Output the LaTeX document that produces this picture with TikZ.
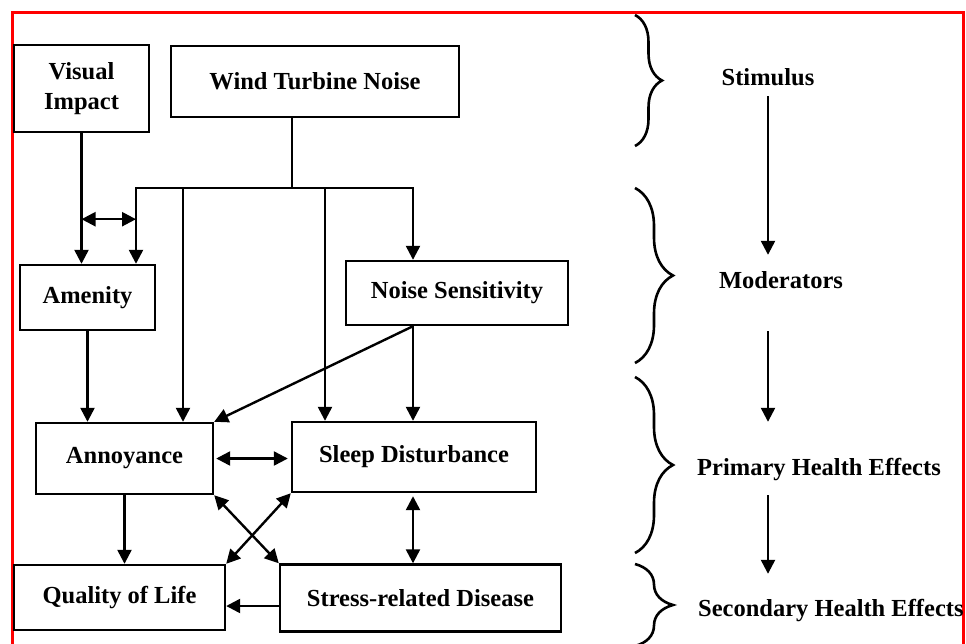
\documentclass[tikz,border=0pt]{standalone}
\usepackage{fontspec}
\setmainfont{Liberation Serif}
\usetikzlibrary{arrows.meta,decorations.pathreplacing}

\begin{document}
\begin{tikzpicture}[x=1pt,y=-1pt,line width=2.4pt,
  >={Triangle[length=14pt,width=14pt]},
  font=\fontsize{24.5}{30}\selectfont\bfseries,
  box/.style={draw,inner sep=0pt,align=center},
  lbl/.style={inner sep=0pt,text height=17pt,text depth=5pt},
  grp/.style={decorate,decoration={brace,amplitude=#1},line width=2.6pt}]

\useasboundingbox (0,0) rectangle (966,643);
\draw[red,line width=3pt] (12,12) rectangle (963,680);

% boxes
\node[box,minimum width=135pt,minimum height=87pt] (visual) at (81.5,88.5) {Visual\\Impact};
\node[box,minimum width=288pt,minimum height=71pt] (wtn) at (315,81.5) {Wind Turbine Noise};
\node[box,minimum width=135pt,minimum height=65pt] (amenity) at (87.5,297.5) {Amenity};
\node[box,minimum width=222pt,minimum height=64pt] (noisesens) at (457,293) {Noise Sensitivity};
\node[box,minimum width=177pt,minimum height=71pt] (annoy) at (124.5,458.5) {Annoyance};
\node[box,minimum width=244pt,minimum height=70pt] (sleep) at (414,457) {Sleep Disturbance};
\node[box,minimum width=211pt,minimum height=65pt] (qol) at (119.5,597.5) {Quality of Life};
\node[box,minimum width=281pt,minimum height=67pt] (stress) at (420.5,598) {Stress-related Disease};

\coordinate (bus) at (292,188);
\coordinate (d1) at (136,188);
\coordinate (d2) at (183,188);
\coordinate (d3) at (325,188);
\coordinate (d4) at (413,188);

\draw (wtn.south -| bus) -- (bus);
\draw[->] (bus) -| (d1 |- amenity.north);
\draw[->] (bus) -| (d4 |- noisesens.north);
\draw[->] (d2) -- (d2 |- annoy.north);
\draw[->] (d3) -- (d3 |- sleep.north);

\draw[->] (visual.south) -- (visual.south |- amenity.north);
\coordinate (vx) at ([yshift=-86pt]visual.south);
\draw[<->] (vx) -- (vx -| d1);

\draw[->] (amenity.south) -- (amenity.south |- annoy.north);
\draw[->] (noisesens.south -| d4) -- (d4 |- sleep.north);
\draw[->] (noisesens.south -| d4) -- (annoy.north east);

\draw[<->,shorten <=2pt,shorten >=3pt] (annoy.east) -- (annoy.east -| sleep.west);
\draw[->] (annoy.south) -- (annoy.south |- qol.north);
\draw[<->] (annoy.south east) -- (stress.north west);
\draw[<->] (sleep.south west) -- (qol.north east);
\draw[<->,shorten <=3pt] (sleep.south -| d4) -- (d4 |- stress.north);
\coordinate (sq) at ([yshift=-8pt]stress.west);
\draw[->] (sq) -- (sq -| qol.east);

% levels
\node[lbl] (stim) at (768,79) {Stimulus};
\node[lbl] (mod) at (781,282) {Moderators};
\node[lbl] (prim) at (819,469) {Primary Health Effects};
\node[lbl,anchor=west] (sec) at (697,610) {Secondary Health Effects};

\draw[grp=27pt] (635,15) -- (635,146);
\draw[grp=38pt] (635,188) -- (635,363);
\draw[grp=38pt] (635,377) -- (635,553);
\draw[grp=38pt] (635,564) -- (635,646);

\draw[->,shorten <=5pt,shorten >=15pt] (stim.south) -- (stim.south |- mod.north);
\draw[->,shorten <=37pt,shorten >=35pt] (stim.south |- mod.south) -- (stim.south |- prim.north);
\draw[->,shorten <=14pt,shorten >=24pt] (stim.south |- prim.south) -- (stim.south |- sec.north);

\end{tikzpicture}
\end{document}
